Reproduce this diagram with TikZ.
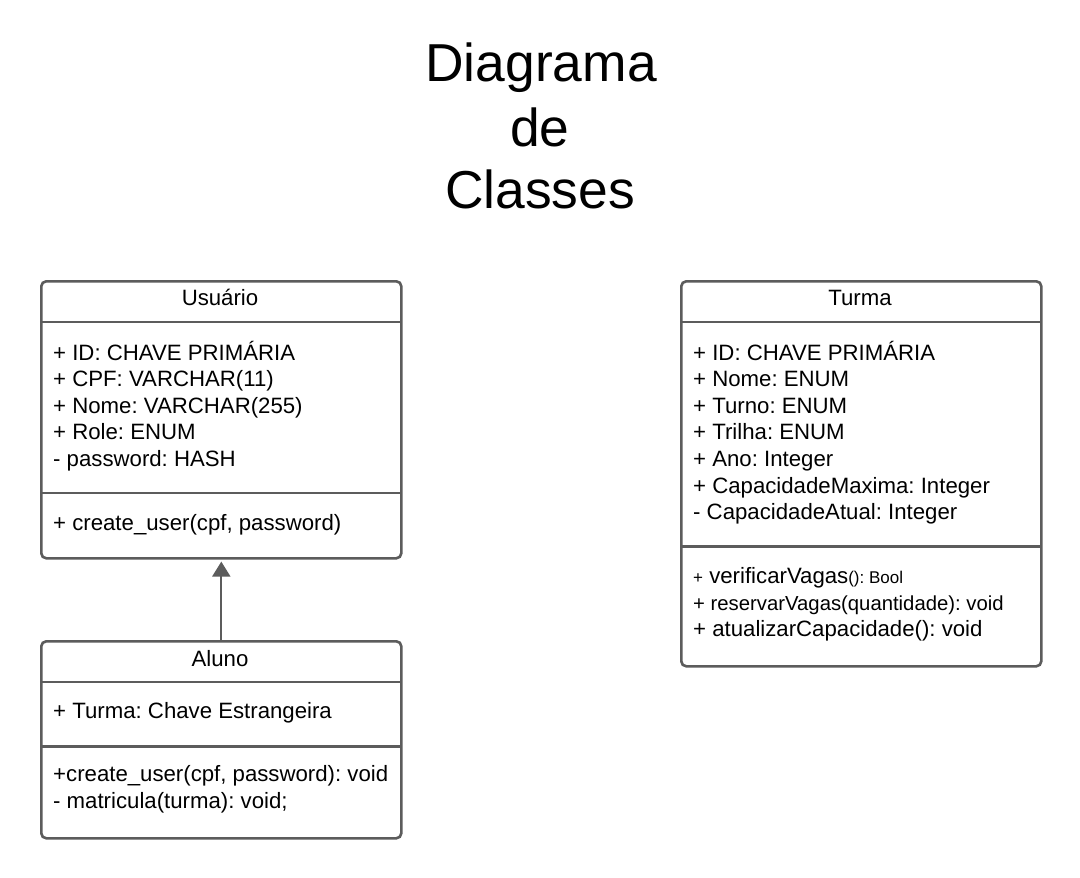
\documentclass[tikz,border=0pt]{standalone}
\usepackage{fontspec}
\setmainfont{Liberation Sans}
\usetikzlibrary{arrows.meta}
\definecolor{boxgray}{RGB}{92,92,92}
\frenchspacing
\begin{document}
\begin{tikzpicture}[x=1pt,y=-1pt,
  classbox/.style={draw=boxgray, line width=2.6pt, rounded corners=5pt, inner sep=0pt, anchor=north west},
  divider/.style={draw=boxgray, line width=2.6pt},
  attr/.style={anchor=base west, inner sep=0pt, font=\fontsize{22.2}{26.6}\selectfont},
  head/.style={anchor=base, inner sep=0pt, font=\fontsize{22.2}{26.6}\selectfont},
  ttl/.style={anchor=base, inner sep=0pt, font=\fontsize{53.4}{63}\selectfont},
  conn/.style={draw=boxgray, line width=2pt}]
\useasboundingbox (0,0) rectangle (1080,878);
\fill[white] (0,0) rectangle (1080,878);
% title
\node[ttl] (t1) at (541,81.5) {Diagrama};
\node[ttl] (t2) at (540,146) {de};
\node[ttl] (t3) at (540,208) {Classes};
% Usuario
\node[classbox, minimum width=360pt, minimum height=277pt] (usuario) at (40,280) {};
\draw[divider] (40,322) -- (400,322);
\draw[divider] (40,493) -- (400,493);
\node[head] (uh) at (220,305) {Usuário};
\node[attr] (u1) at (53,360) {+ ID: CHAVE PRIMÁRIA};
\node[attr] (u2) at (53,386.6) {+ CPF: VARCHAR(11)};
\node[attr] (u3) at (53,413.2) {+ Nome: VARCHAR(255)};
\node[attr] (u4) at (53,439.8) {+ Role: ENUM};
\node[attr] (u5) at (53,466.4) {- password: HASH};
\node[attr] (u6) at (53,530) {+ create\_user(cpf, password)};
% Aluno
\node[classbox, minimum width=360pt, minimum height=197pt] (aluno) at (40,640) {};
\draw[divider] (40,682) -- (400,682);
\draw[divider] (40,746.5) -- (400,746.5);
\node[head] (ah) at (220,666.5) {Aluno};
\node[attr] (a1) at (53,718) {+ Turma: Chave Estrangeira};
\node[attr] (a2) at (53,781.5) {+create\_user(cpf, password): void};
\node[attr] (a3) at (53,808.5) {- matricula(turma): void;};
% Turma
\node[classbox, minimum width=360pt, minimum height=385pt] (turma) at (680,280) {};
\draw[divider] (680,322) -- (1040,322);
\draw[divider] (680,546.5) -- (1040,546.5);
\node[head] (th) at (860,305) {Turma};
\node[attr] (m1) at (693,360) {+ ID: CHAVE PRIMÁRIA};
\node[attr] (m2) at (693,386.6) {+ Nome: ENUM};
\node[attr] (m3) at (693,413.2) {+ Turno: ENUM};
\node[attr] (m4) at (693,439.8) {+ Trilha: ENUM};
\node[attr] (m5) at (693,466.4) {+ Ano: Integer};
\node[attr] (m6) at (693,493) {+ CapacidadeMaxima: Integer};
\node[attr] (m7) at (693,519.6) {- CapacidadeAtual: Integer};
\node[attr] (m8) at (693,583) {{\fontsize{17}{20}\selectfont +} verificarVagas{\fontsize{17}{20}\selectfont (): Bool}};
\node[attr, font=\fontsize{20.3}{26.6}\selectfont] (m9) at (693,610) {+ reservarVagas(quantidade): void};
\node[attr] (m10) at (693,636.6) {+ atualizarCapacidade(): void};
% generalization
\draw[conn, -{Triangle[length=15pt,width=18pt]}, shorten >=2pt] (aluno.north) -- (usuario.south);
\end{tikzpicture}
\end{document}
